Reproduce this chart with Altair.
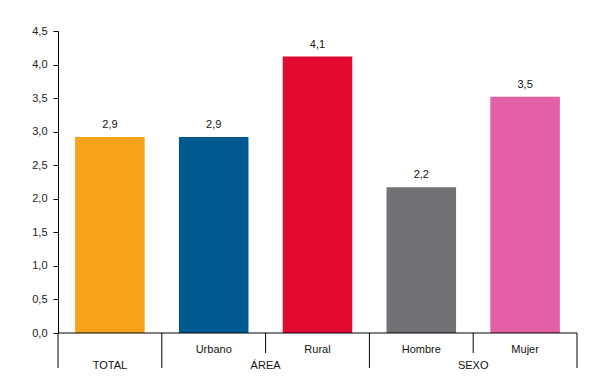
import altair as alt
import pandas as pd

categories = ["TOTAL", "Urbano", "Rural", "Hombre", "Mujer"]
values = [2.92, 2.92, 4.12, 2.17, 3.52]
value_labels = ["2,9", "2,9", "4,1", "2,2", "3,5"]
colors = ["#F9A11B", "#005A8F", "#E30A32", "#727176", "#E35FA6"]
sub_labels = ["", "Urbano", "Rural", "Hombre", "Mujer"]
groups = ["TOTAL", "ÁREA", "SEXO"]
group_pos = [0.5, 2.0, 4.0]
long_seps = [0, 1, 3, 5]
short_seps = [2, 4]
y_ticks = [0, 0.5, 1, 1.5, 2, 2.5, 3, 3.5, 4, 4.5]

FONT = "Liberation Sans"
half = 0.335

bars = pd.DataFrame({
    "cat": categories,
    "v": values,
    "zero": [0] * len(categories),
    "lab": value_labels,
    "x0": [i + 0.5 - half for i in range(len(categories))],
    "x1": [i + 0.5 + half for i in range(len(categories))],
    "xc": [i + 0.5 for i in range(len(categories))],
    "sub": sub_labels,
})
xs = alt.Scale(domain=[0, 5], nice=False, zero=False)
ys = alt.Scale(domain=[0, 4.5], nice=False)
yaxis = alt.Axis(
    values=y_ticks, tickCount=10, title=None, grid=False, domainColor="#000", tickColor="#000",
    tickSize=5, labelFont=FONT, labelFontSize=11, labelColor="#222", labelPadding=6,
    labelOverlap=False,
    labelExpr="replace(format(datum.value, '.1f'), '.', ',')")

bar = alt.Chart(bars).mark_rect().encode(
    x=alt.X("x0:Q", scale=xs, axis=None),
    x2="x1:Q",
    y=alt.Y("v:Q", scale=ys, axis=yaxis),
    y2="zero:Q",
    color=alt.Color("cat:N", scale=alt.Scale(domain=categories, range=colors), legend=None),
)

vtext = alt.Chart(bars).mark_text(baseline="bottom", dy=-7, font=FONT, fontSize=11, color="#111").encode(
    x=alt.X("xc:Q", scale=xs, axis=None), y=alt.Y("v:Q", scale=ys, axis=yaxis), text="lab:N")

subtext = alt.Chart(bars).mark_text(baseline="middle", font=FONT, fontSize=11, color="#111").encode(
    x=alt.X("xc:Q", scale=xs, axis=None), y=alt.value(319), text="sub:N")

gdf = pd.DataFrame({"g": groups, "p": group_pos})
gtext = alt.Chart(gdf).mark_text(baseline="middle", font=FONT, fontSize=11, color="#111").encode(
    x=alt.X("p:Q", scale=xs, axis=None), y=alt.value(335), text="g:N")

ldf = pd.DataFrame({"s": long_seps})
lrule = alt.Chart(ldf).mark_rule(color="#000", strokeWidth=1).encode(
    x=alt.X("s:Q", scale=xs, axis=None), y=alt.value(302), y2=alt.value(337))

sdf = pd.DataFrame({"s": short_seps})
srule = alt.Chart(sdf).mark_rule(color="#000", strokeWidth=1).encode(
    x=alt.X("s:Q", scale=xs, axis=None), y=alt.value(302), y2=alt.value(322))

hdf = pd.DataFrame({"a": [0], "b": [5], "y": [0]})
hrule = alt.Chart(hdf).mark_rule(color="#000", strokeWidth=1).encode(
    x=alt.X("a:Q", scale=xs, axis=None), x2="b:Q", y=alt.Y("y:Q", scale=ys, axis=yaxis))

chart = alt.layer(bar, vtext, subtext, gtext, lrule, srule, hrule).properties(
    width=519, height=302,
    background="white",
    autosize=alt.AutoSizeParams(type="none"),
    padding={"left": 50, "top": 23, "right": 10, "bottom": 50},
).configure_view(stroke=None)

chart.save("out.html", embed_options={"renderer": "svg", "actions": False})
